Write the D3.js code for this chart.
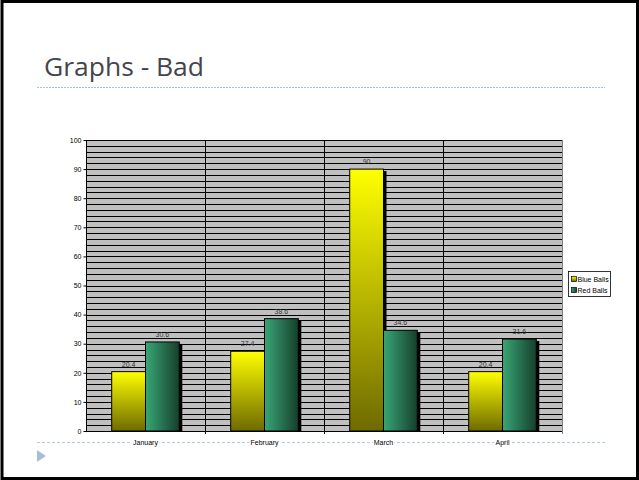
<!DOCTYPE html>
<html>
<head>
<meta charset="utf-8">
<script src="https://cdn.jsdelivr.net/npm/d3@7"></script>
<style>
  body { margin: 0; background: #fff; }
  svg { display: block; }
</style>
</head>
<body>
<div id="chart"></div>
<script>
// data
const months = ["January", "February", "March", "April"];
const seriesNames = ["Blue Balls", "Red Balls"];
const blueBalls = [20.4, 27.4, 90, 20.4];
const redBalls = [30.6, 38.6, 34.6, 31.6];
const yTicks = [0, 10, 20, 30, 40, 50, 60, 70, 80, 90, 100];

const width = 639, height = 480;
const plot = { left: 86, right: 562, top: 140, bottom: 431 };

const svg = d3.select("#chart").append("svg")
	.attr("width", width)
	.attr("height", height);

const defs = svg.append("defs");
const yellowGrad = defs.append("linearGradient")
	.attr("id", "yellowGrad")
	.attr("x1", 0).attr("y1", 0).attr("x2", 0).attr("y2", 1);
yellowGrad.append("stop").attr("offset", "0%").attr("stop-color", "#ffff00");
yellowGrad.append("stop").attr("offset", "100%").attr("stop-color", "#6e6a00");

const greenGrad = defs.append("linearGradient")
	.attr("id", "greenGrad")
	.attr("x1", 0).attr("y1", 0).attr("x2", 1).attr("y2", 0);
greenGrad.append("stop").attr("offset", "0%").attr("stop-color", "#38a676");
greenGrad.append("stop").attr("offset", "100%").attr("stop-color", "#163f2c");

const fills = ["url(#yellowGrad)", "url(#greenGrad)"];

// slide frame
svg.append("rect")
	.attr("x", 2).attr("y", 1.5)
	.attr("width", width - 3.5).attr("height", height - 3)
	.attr("fill", "#fff")
	.attr("stroke", "#000")
	.attr("stroke-width", 3);

// title + divider
svg.append("text")
	.attr("x", 44).attr("y", 76)
	.attr("font-family", "Open Sans, sans-serif")
	.attr("font-size", 25)
	.attr("fill", "#44444f")
	.attr("textLength", 160)
	.attr("lengthAdjust", "spacingAndGlyphs")
	.text("Graphs - Bad");

svg.append("line")
	.attr("x1", 37).attr("x2", 605)
	.attr("y1", 87.5).attr("y2", 87.5)
	.attr("stroke", "#a9bfd6")
	.attr("stroke-width", 1)
	.attr("stroke-dasharray", "2,1");

// footer line
svg.append("line")
	.attr("x1", 37).attr("x2", 605)
	.attr("y1", 442.5).attr("y2", 442.5)
	.attr("stroke", "#b7c9dc")
	.attr("stroke-width", 1)
	.attr("stroke-dasharray", "3,2");

svg.append("path")
	.attr("d", "M37,450 L46,456 L37,462 Z")
	.attr("fill", "#a6bed8");

// scales
const x = d3.scaleBand()
	.domain(months)
	.range([plot.left, plot.right]);

const xInner = d3.scaleBand()
	.domain(seriesNames)
	.range([25.7, x.bandwidth() - 25.7]);

const y = d3.scaleLinear()
	.domain([0, 100])
	.range([plot.bottom, plot.top]);

// plot area
svg.append("rect")
	.attr("x", plot.left).attr("y", plot.top)
	.attr("width", plot.right - plot.left)
	.attr("height", plot.bottom - plot.top)
	.attr("fill", "#c0c0c0");

// gridlines every 2
svg.append("g")
	.selectAll("line")
	.data(d3.range(2, 101, 2))
	.join("line")
	.attr("x1", plot.left).attr("x2", plot.right)
	.attr("y1", (d) => Math.round(y(d)) + 0.5)
	.attr("y2", (d) => Math.round(y(d)) + 0.5)
	.attr("stroke", "#000")
	.attr("stroke-width", 1);

// category separators
svg.append("g")
	.selectAll("line")
	.data(months.slice(1))
	.join("line")
	.attr("x1", (d) => Math.round(x(d)) + 0.5)
	.attr("x2", (d) => Math.round(x(d)) + 0.5)
	.attr("y1", plot.top).attr("y2", plot.bottom + 3)
	.attr("stroke", "#000");

svg.append("line")
	.attr("x1", plot.right + 0.5).attr("x2", plot.right + 0.5)
	.attr("y1", plot.top).attr("y2", plot.bottom + 3)
	.attr("stroke", "#000")
	.attr("opacity", 0.5);

// y axis
const yAxis = svg.append("g")
	.attr("transform", `translate(${plot.left + 0.5},0)`)
	.call(d3.axisLeft(y).tickValues(yTicks).tickSize(3).tickPadding(2));
yAxis.selectAll("text")
	.attr("font-family", "Liberation Sans, Arial, sans-serif")
	.attr("font-size", 7)
	.attr("fill", "#000");
yAxis.select(".domain").attr("d", `M0,${plot.top}V${plot.bottom + 0.5}`);

// x axis line
svg.append("line")
	.attr("x1", plot.left).attr("x2", plot.right)
	.attr("y1", plot.bottom + 0.5).attr("y2", plot.bottom + 0.5)
	.attr("stroke", "#000");

// bars
const rows = months.map((m, i) => ({ month: m, values: [blueBalls[i], redBalls[i]] }));

const groups = svg.append("g")
	.selectAll("g")
	.data(rows)
	.join("g")
	.attr("transform", (d) => `translate(${x(d.month)},0)`);

const bars = groups.selectAll("g")
	.data((d) => d.values.map((v, j) => ({ name: seriesNames[j], value: v, j: j })))
	.join("g");

// shadow
bars.append("rect")
	.attr("x", (d) => xInner(d.name) + 3)
	.attr("y", (d) => y(d.value) + 2)
	.attr("width", xInner.bandwidth())
	.attr("height", (d) => plot.bottom - y(d.value) - 2)
	.attr("fill", "#000");

bars.append("rect")
	.attr("x", (d) => xInner(d.name))
	.attr("y", (d) => y(d.value))
	.attr("width", xInner.bandwidth())
	.attr("height", (d) => plot.bottom - y(d.value))
	.attr("fill", (d) => fills[d.j])
	.attr("stroke", "#000")
	.attr("stroke-width", 1);

bars.append("text")
	.attr("x", (d) => xInner(d.name) + xInner.bandwidth() / 2)
	.attr("y", (d) => y(d.value) - 5)
	.attr("text-anchor", "middle")
	.attr("font-family", "Liberation Sans, Arial, sans-serif")
	.attr("font-size", 7)
	.attr("fill", "#333")
	.text((d) => d.value);

// category labels (sitting on the footer line)
const catLabels = svg.append("g")
	.selectAll("g")
	.data(months)
	.join("g")
	.attr("transform", (d) => `translate(${x(d) + x.bandwidth() / 2},445)`);
catLabels.append("text")
	.attr("text-anchor", "middle")
	.attr("font-family", "Liberation Sans, Arial, sans-serif")
	.attr("font-size", 7)
	.attr("fill", "#000")
	.text((d) => d)
	.each(function () {
		const b = this.getBBox();
		d3.select(this.parentNode).insert("rect", "text")
			.attr("x", b.x - 1).attr("y", b.y)
			.attr("width", b.width + 2).attr("height", b.height)
			.attr("fill", "#fff");
	});

// legend
const legend = svg.append("g").attr("transform", "translate(568.5,271.5)");
legend.append("rect")
	.attr("width", 42).attr("height", 25)
	.attr("fill", "#fff")
	.attr("stroke", "#000")
	.attr("stroke-width", 0.8);
const items = legend.selectAll("g")
	.data(seriesNames)
	.join("g")
	.attr("transform", (d, i) => `translate(3,${5 + i * 11})`);
items.append("rect")
	.attr("width", 5).attr("height", 5)
	.attr("fill", (d, i) => fills[i])
	.attr("stroke", "#000")
	.attr("stroke-width", 0.7);
items.append("text")
	.attr("x", 6).attr("y", 5)
	.attr("font-family", "Liberation Sans, Arial, sans-serif")
	.attr("font-size", 7)
	.attr("fill", "#000")
	.text((d) => d);
</script>
</body>
</html>
